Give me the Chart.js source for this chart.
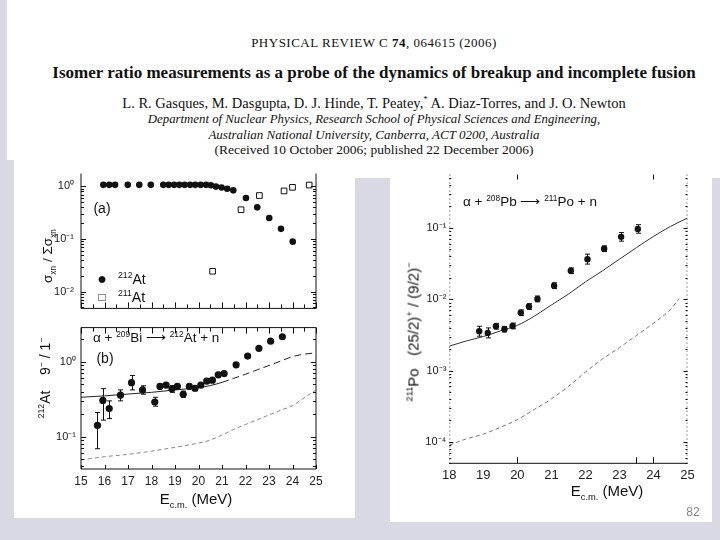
<!DOCTYPE html>
<html>
<head>
<meta charset="utf-8">
<script src="https://cdn.jsdelivr.net/npm/chart.js@4.4.1/dist/chart.umd.min.js"></script>
<style>
  body { margin: 0; width: 720px; height: 540px; overflow: hidden; position: relative;
         background: #d9d9e3; font-family: "Liberation Sans", Arial, sans-serif; }
  .box { position: absolute; background: #fff; }
  .t { position: absolute; white-space: nowrap; color: #111; line-height: 1; }
  .hd { font-family: "Liberation Serif", "Times New Roman", serif; left: 0; width: 748px; text-align: center; }
  .rot { transform: translate(-50%, -50%) rotate(-90deg); }
  .c { transform: translate(-50%, -50%); }
  sup, sub { font-size: 62%; line-height: 0; }
  canvas { position: absolute; }
</style>
</head>
<body>
<div class="box" style="left:7px;top:0;width:713px;height:160px"></div>
<div class="box" style="left:14px;top:160px;width:341px;height:358px"></div>
<div class="box" style="left:355px;top:160px;width:365px;height:18px"></div>
<div class="box" style="left:390px;top:178px;width:322px;height:344px"></div>

<div class="t hd" style="top:36px;font-size:13px;letter-spacing:0.5px">PHYSICAL REVIEW C <b>74</b>, 064615 (2006)</div>
<div class="t hd" style="top:64px;font-size:17px;font-weight:bold">Isomer ratio measurements as a probe of the dynamics of breakup and incomplete fusion</div>
<div class="t hd" style="top:96px;font-size:14.5px">L. R. Gasques, M. Dasgupta, D. J. Hinde, T. Peatey,<sup>*</sup> A. Diaz-Torres, and J. O. Newton</div>
<div class="t hd" style="top:113px;font-size:12.8px;font-style:italic">Department of Nuclear Physics, Research School of Physical Sciences and Engineering,</div>
<div class="t hd" style="top:128px;font-size:13px;font-style:italic">Australian National University, Canberra, ACT 0200, Australia</div>
<div class="t hd" style="top:143px;font-size:13.5px">(Received 10 October 2006; published 22 December 2006)</div>

<canvas id="cA" width="341" height="162" style="left:14px;top:160px"></canvas>
<canvas id="cB" width="341" height="180" style="left:14px;top:316px"></canvas>
<canvas id="cR" width="322" height="320" style="left:390px;top:165px"></canvas>

<div class="t rot" style="left:48px;top:256px;font-size:13.5px">σ<sub>xn</sub> / Σσ<sub>xn</sub></div>
<div class="t c" style="left:102px;top:208px;font-size:14px">(a)</div>
<div class="t c" style="left:102px;top:279px;font-size:16px">●</div>
<div class="t" style="left:118px;top:272px;font-size:14px"><sup>212</sup>At</div>
<div class="t c" style="left:102px;top:297px;font-size:12px">□</div>
<div class="t" style="left:118px;top:290px;font-size:14px"><sup>211</sup>At</div>

<div class="t rot" style="left:45px;top:378px;font-size:14px"><sup>212</sup>At&nbsp;&nbsp;&nbsp;&nbsp;9<sup>−</sup> / 1<sup>−</sup></div>
<div class="t c" style="left:105px;top:358px;font-size:14px">(b)</div>
<div class="t" style="left:93px;top:331px;font-size:13.5px">α + <sup>209</sup>Bi ⟶ <sup>212</sup>At + n</div>
<div class="t c" style="left:196px;top:498px;font-size:15px">E<sub>c.m.</sub> (MeV)</div>

<div class="t rot" style="left:413px;top:332px;font-size:15px"><sup>211</sup>Po&nbsp;&nbsp;&nbsp;(25/2)<sup>+</sup> / (9/2)<sup>−</sup></div>
<div class="t" style="left:463px;top:195px;font-size:13.5px">α + <sup>208</sup>Pb ⟶ <sup>211</sup>Po + n</div>
<div class="t c" style="left:607px;top:490px;font-size:15px">E<sub>c.m.</sub> (MeV)</div>
<div class="t c" style="left:693px;top:512px;font-size:12px;color:#888">82</div>

<script>
// panel (a): sigma_xn / sum sigma_xn
const aAt212E = [15.95, 16.2, 16.45, 16.99, 17.48, 17.97, 18.5, 18.73, 18.96, 19.18, 19.41, 19.64, 19.86, 20.09, 20.32,
                 20.53, 20.74, 20.98, 21.22, 21.48, 22.02, 22.5, 23.01, 23.51, 24.01];
const aAt212 = [1.07, 1.07, 1.07, 1.07, 1.07, 1.07, 1.07, 1.07, 1.07, 1.07, 1.07, 1.07, 1.07, 1.07, 1.07,
                1.05, 0.99, 0.95, 0.9, 0.84, 0.6, 0.4, 0.25, 0.156, 0.089];
const aAt211E = [20.6, 21.81, 22.59, 23.64, 24.0, 24.71];
const aAt211 = [0.0244, 0.36, 0.67, 0.82, 0.96, 1.06];
const aYTicks = [0.01, 0.1, 1];
const aYLabels = ["10⁻²", "10⁻¹", "10⁰"];

// panel (b): 212At 9- / 1-
const bE = [15.7, 15.93, 16.2, 16.68, 17.15, 17.62, 18.14, 18.36, 18.62, 18.87, 19.1, 19.35, 19.61, 19.85,
            20.1, 20.35, 20.59, 20.84, 21.09, 21.6, 22.09, 22.57, 23.07, 23.57];
const bVal = [0.141, 0.304, 0.237, 0.358, 0.525, 0.42, 0.29, 0.468, 0.487, 0.434, 0.468, 0.368, 0.468, 0.442,
              0.487, 0.551, 0.567, 0.668, 0.694, 0.907, 1.19, 1.51, 1.88, 2.15];
const bLo = [0.069, 0.166, 0.174, 0.3, 0.42, 0.368, 0.255, 0.44, 0.46, 0.39, 0.44, 0.335, 0.44, 0.41,
             0.46, 0.52, 0.53, 0.62, 0.65, 0.86, 1.13, 1.44, 1.8, 2.05];
const bHi = [0.21, 0.437, 0.3, 0.42, 0.655, 0.477, 0.335, 0.5, 0.515, 0.48, 0.5, 0.405, 0.5, 0.475,
             0.515, 0.585, 0.6, 0.72, 0.74, 0.96, 1.25, 1.58, 1.96, 2.25];
const bCalcE = [15, 16, 17, 18, 19, 20, 20.5, 21, 21.5, 22, 22.5, 23, 23.5, 24, 24.5, 25];
const bCalc = [0.335, 0.35, 0.37, 0.39, 0.42, 0.45, 0.48, 0.53, 0.6, 0.68, 0.78, 0.89, 1.02, 1.17, 1.26, 1.31];
const bCalcLow = [0.049, 0.054, 0.058, 0.064, 0.072, 0.082, 0.09, 0.105, 0.125, 0.145, 0.168, 0.195, 0.225, 0.26, 0.33, 0.42];
const bXTicks = [15, 16, 17, 18, 19, 20, 21, 22, 23, 24, 25];
const bYTicks = [0.1, 1];
const bYLabels = ["10⁻¹", "10⁰"];

// right figure: 211Po (25/2)+ / (9/2)-
const rE = [18.88, 19.13, 19.37, 19.62, 19.86, 20.1, 20.34, 20.59, 21.08, 21.57, 22.06, 22.55, 23.05, 23.54];
const rVal = [0.00356, 0.00337, 0.00418, 0.0038, 0.00422, 0.00646, 0.0079, 0.0101, 0.0155, 0.0251, 0.0365, 0.0511, 0.075, 0.0969];
const rLo = [0.00303, 0.00287, 0.00381, 0.00347, 0.00385, 0.00589, 0.00721, 0.00921, 0.0141, 0.0229, 0.0311, 0.0466, 0.0653, 0.0844];
const rHi = [0.00418, 0.00396, 0.00458, 0.00416, 0.00463, 0.00708, 0.00866, 0.0111, 0.017, 0.0275, 0.0429, 0.056, 0.0861, 0.111];
const rCalcE = [18, 18.5, 19, 19.5, 20, 20.5, 21, 21.5, 22, 22.5, 23, 23.5, 24, 24.5, 25];
const rCalc = [0.0022, 0.0026, 0.003, 0.0036, 0.0043, 0.0058, 0.0083, 0.0118, 0.0175, 0.025, 0.0365, 0.053, 0.076, 0.105, 0.138];
const rDashE = [18, 18.5, 19, 19.5, 20, 20.5, 21, 21.5, 22, 22.5, 23, 23.5, 24, 24.5, 24.75];
const rDash = [0.00009, 0.00011, 0.000128, 0.00016, 0.000205, 0.000285, 0.0004, 0.0006, 0.00095, 0.00145, 0.0021, 0.0031, 0.0046, 0.0072, 0.0102];
const rXTicks = [18, 19, 20, 21, 22, 23, 24, 25];
const rYTicks = [0.0001, 0.001, 0.01, 0.1];
const rYLabels = ["10⁻⁴", "10⁻³", "10⁻²", "10⁻¹"];

const pts = (xs, ys) => xs.map((v, i) => ({ x: v, y: ys[i] }));
const tickFont = { family: "Liberation Sans", size: 12 };
const yTickFont = { family: "Liberation Sans", size: 11 };

// frame + inward ticks, drawn from the scales
const frameTicks = {
  id: "frameTicks",
  afterDatasetsDraw(chart, args, o) {
    const { ctx, chartArea: a, scales: { x, y } } = chart;
    ctx.save();
    ctx.strokeStyle = "#111";
    ctx.lineWidth = 1;
    ctx.beginPath();
    if (o.sides.includes("b")) { ctx.moveTo(a.left, a.bottom); ctx.lineTo(a.right, a.bottom); }
    if (o.sides.includes("t")) { ctx.moveTo(a.left, a.top); ctx.lineTo(a.right, a.top); }
    if (o.sides.includes("l")) { ctx.moveTo(a.left, a.top); ctx.lineTo(a.left, a.bottom); }
    if (o.sides.includes("r")) { ctx.moveTo(a.right, a.top); ctx.lineTo(a.right, a.bottom); }
    ctx.stroke();
    if (o.dotted) {
      ctx.setLineDash([1, 3]);
      ctx.strokeStyle = "#444";
      ctx.beginPath();
      ctx.moveTo(a.left + 0.5, a.top); ctx.lineTo(a.left + 0.5, a.bottom);
      ctx.moveTo(a.right - 0.5, a.top); ctx.lineTo(a.right - 0.5, a.bottom);
      ctx.stroke();
      ctx.setLineDash([]);
      ctx.strokeStyle = "#111";
    }
    // y log ticks
    ctx.beginPath();
    const k0 = Math.floor(Math.log10(y.min)), k1 = Math.ceil(Math.log10(y.max));
    for (let k = k0; k <= k1; k++) {
      for (let m = 1; m <= 9; m++) {
        const v = m * Math.pow(10, k);
        if (v < y.min || v > y.max) continue;
        const py = Math.round(y.getPixelForValue(v)) + 0.5;
        const len = m === 1 ? o.yMajor : o.yMinor;
        ctx.moveTo(a.left, py); ctx.lineTo(a.left + len, py);
        ctx.moveTo(a.right, py); ctx.lineTo(a.right - len, py);
      }
    }
    // x ticks
    (o.xBottom || []).forEach(([v, len]) => {
      const px = Math.round(x.getPixelForValue(v)) + 0.5;
      ctx.moveTo(px, a.bottom); ctx.lineTo(px, a.bottom - len);
    });
    (o.xTop || []).forEach(([v, len]) => {
      const px = Math.round(x.getPixelForValue(v)) + 0.5;
      ctx.moveTo(px, a.top); ctx.lineTo(px, a.top + len);
    });
    ctx.stroke();
    ctx.restore();
  }
};

const errorBars = {
  id: "errorBars",
  beforeDatasetsDraw(chart) {
    const { ctx, scales: { x, y } } = chart;
    chart.data.datasets.forEach((ds) => {
      if (!ds.errLo) return;
      ctx.save();
      ctx.strokeStyle = "#111";
      ctx.lineWidth = 1;
      ctx.beginPath();
      ds.data.forEach((p, i) => {
        const px = Math.round(x.getPixelForValue(p.x)) + 0.5;
        const y1 = y.getPixelForValue(ds.errLo[i]);
        const y2 = y.getPixelForValue(ds.errHi[i]);
        ctx.moveTo(px, y1); ctx.lineTo(px, y2);
        ctx.moveTo(px - 2.5, y1); ctx.lineTo(px + 2.5, y1);
        ctx.moveTo(px - 2.5, y2); ctx.lineTo(px + 2.5, y2);
      });
      ctx.stroke();
      ctx.restore();
    });
  }
};

function halfSteps(from, to, majorLen, minorLen) {
  const out = [];
  for (let v = from; v <= to + 1e-9; v += 0.5) out.push([v, Number.isInteger(v) ? majorLen : minorLen]);
  return out;
}

function logAxis(min, max, ticks, labels, width, pad) {
  return {
    type: "logarithmic", min: min, max: max,
    afterBuildTicks: (s) => { s.ticks = ticks.map((v) => ({ value: v })); },
    afterFit: (s) => { s.width = width; },
    ticks: { autoSkip: false, padding: pad, color: "#222", font: yTickFont,
             callback: (v) => labels[ticks.indexOf(v)] },
    grid: { display: false, drawTicks: false },
    border: { display: false }
  };
}

const common = {
  responsive: false,
  animation: false,
  plugins: { legend: { display: false }, tooltip: { enabled: false } }
};

// panel (a)
new Chart(document.getElementById("cA"), {
  type: "scatter",
  data: {
    datasets: [
      { data: pts(aAt212E, aAt212), pointStyle: "circle", pointRadius: 3.3,
        backgroundColor: "#111", borderColor: "#111", borderWidth: 0 },
      { data: pts(aAt211E, aAt211), pointStyle: "rect", pointRadius: 4,
        backgroundColor: "#fff", borderColor: "#111", borderWidth: 1 }
    ]
  },
  options: {
    ...common,
    layout: { padding: { left: 0, right: 39, top: 12, bottom: 4 } },
    scales: {
      x: { type: "linear", min: 15, max: 25, display: false },
      y: logAxis(0.0048, 1.75, aYTicks, aYLabels, 67, 7)
    },
    plugins: { ...common.plugins,
      frameTicks: { sides: "lbr", yMajor: 5, yMinor: 3, xBottom: halfSteps(15, 25, 6, 4) } }
  },
  plugins: [frameTicks]
});

// panel (b)
new Chart(document.getElementById("cB"), {
  type: "scatter",
  data: {
    datasets: [
      { data: pts(bE, bVal), errLo: bLo, errHi: bHi, pointStyle: "circle", pointRadius: 3.6,
        backgroundColor: "#111", borderColor: "#111", borderWidth: 0 },
      { data: pts(bCalcE, bCalc), showLine: true, pointRadius: 0, borderColor: "#222", borderWidth: 1,
        cubicInterpolationMode: "monotone",
        segment: { borderDash: (c) => (c.p0.parsed.x >= 21 ? [7, 4] : undefined) } },
      { data: pts(bCalcE, bCalcLow), showLine: true, pointRadius: 0, borderColor: "#888", borderWidth: 1,
        borderDash: [4, 3], cubicInterpolationMode: "monotone" }
    ]
  },
  options: {
    ...common,
    layout: { padding: { left: 0, right: 39, top: 2, bottom: 0 } },
    scales: {
      x: { type: "linear", min: 15, max: 25,
           afterBuildTicks: (s) => { s.ticks = bXTicks.map((v) => ({ value: v })); },
           afterFit: (s) => { s.height = 27; },
           ticks: { autoSkip: false, padding: 5, color: "#222", font: tickFont, maxRotation: 0 },
           grid: { display: false, drawTicks: false }, border: { display: false } },
      y: logAxis(0.037, 2.85, bYTicks, bYLabels, 67, 5)
    },
    plugins: { ...common.plugins,
      frameTicks: { sides: "lbrt", yMajor: 5, yMinor: 3, xTop: halfSteps(15, 25, 6, 4), xBottom: halfSteps(15, 25, 4, 0) } }
  },
  plugins: [errorBars, frameTicks]
});

// right figure
new Chart(document.getElementById("cR"), {
  type: "scatter",
  data: {
    datasets: [
      { data: pts(rE, rVal), errLo: rLo, errHi: rHi, pointStyle: "circle", pointRadius: 3.2,
        backgroundColor: "#111", borderColor: "#111", borderWidth: 0 },
      { data: pts(rCalcE, rCalc), showLine: true, pointRadius: 0, borderColor: "#333", borderWidth: 1,
        cubicInterpolationMode: "monotone" },
      { data: pts(rDashE, rDash), showLine: true, pointRadius: 0, borderColor: "#777", borderWidth: 1,
        borderDash: [4, 3], cubicInterpolationMode: "monotone" }
    ]
  },
  options: {
    ...common,
    layout: { padding: { left: 0, right: 24.5, top: 8, bottom: 0 } },
    scales: {
      x: { type: "linear", min: 18, max: 25,
           afterBuildTicks: (s) => { s.ticks = rXTicks.map((v) => ({ value: v })); },
           afterFit: (s) => { s.height = 21.7; },
           ticks: { autoSkip: false, padding: 4, color: "#222", font: { family: "Liberation Sans", size: 13 }, maxRotation: 0 },
           grid: { display: false, drawTicks: false }, border: { display: false } },
      y: logAxis(0.00005, 0.56, rYTicks, rYLabels, 59.3, 3)
    },
    plugins: { ...common.plugins,
      frameTicks: { sides: "b", dotted: true, yMajor: 4, yMinor: 2,
                    xBottom: [[20, 6], [23.5, 6], [24, 6]], xTop: [[20, 5], [24, 5]] } }
  },
  plugins: [errorBars, frameTicks]
});
</script>
</body>
</html>
